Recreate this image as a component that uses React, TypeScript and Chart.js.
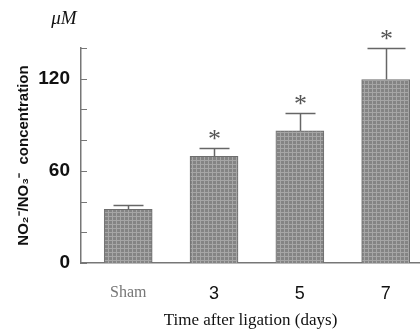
import { useEffect, useRef } from 'react';
import { Chart, registerables } from 'chart.js';
Chart.register(...registerables);

const categories = ['Sham', '3', '5', '7'];
const means = [35, 69.5, 86, 119.5];
const errorsUp = [2.5, 5.5, 12, 20.5];
const significant = [false, true, true, true];
const yLabelled = [0, 60, 120];
const yMax = 140;
const yStep = 20;

function makePattern(): CanvasPattern | string {
  const c = document.createElement('canvas');
  c.width = 4;
  c.height = 4;
  const g = c.getContext('2d');
  if (!g) return '#8c8c8c';
  g.fillStyle = '#848484';
  g.fillRect(0, 0, 4, 4);
  g.fillStyle = '#a6a6a6';
  g.fillRect(0, 0, 4, 1);
  g.fillRect(0, 0, 1, 4);
  const p = g.createPattern(c, 'repeat');
  return p || '#8c8c8c';
}

export default function App() {
  const ref = useRef<HTMLCanvasElement | null>(null);
  useEffect(() => {
    const canvas = ref.current;
    if (!canvas) return;
    const pattern = makePattern();

    const overlay = {
      id: 'overlay',
      afterDatasetsDraw(chart: any) {
        const { ctx, scales } = chart;
        const xs = scales.x;
        const ys = scales.y;
        ctx.save();
        ctx.strokeStyle = '#777';
        ctx.lineWidth = 1;
        for (let v = 0; v <= yMax; v += yStep) {
          const y = Math.round(ys.getPixelForValue(v)) + 0.5;
          ctx.beginPath();
          ctx.moveTo(xs.left, y);
          ctx.lineTo(xs.left + 6, y);
          ctx.stroke();
        }
        means.forEach((m, i) => {
          const x = Math.round(xs.getPixelForValue(i)) + 0.5;
          const yTop = ys.getPixelForValue(m);
          const yErr = Math.round(ys.getPixelForValue(m + errorsUp[i])) + 0.5;
          ctx.strokeStyle = '#666';
          ctx.lineWidth = 1.5;
          ctx.beginPath();
          ctx.moveTo(x, yTop);
          ctx.lineTo(x, yErr);
          ctx.stroke();
          const half = i === 3 ? 19 : 15;
          ctx.beginPath();
          ctx.moveTo(x - half, yErr);
          ctx.lineTo(x + half, yErr);
          ctx.stroke();
          if (significant[i]) {
            ctx.fillStyle = '#555';
            ctx.font = '26px "Liberation Serif", serif';
            ctx.textAlign = 'center';
            ctx.textBaseline = 'alphabetic';
            ctx.fillText('*', x, yErr - 2);
          }
        });
        ctx.fillStyle = '#111';
        ctx.font = 'italic 19px "Liberation Serif", serif';
        ctx.textAlign = 'center';
        ctx.textBaseline = 'middle';
        ctx.fillText('\u03bcM', 64, 19);
        ctx.restore();
      },
    };

    const chart = new Chart(canvas, {
      type: 'bar',
      data: {
        datasets: [
          {
            data: means.map((m, i) => ({ x: i, y: m })),
            backgroundColor: pattern as any,
            borderColor: '#6e6e6e',
            borderWidth: 1,
            barThickness: 48,
          },
        ],
      },
      options: {
        animation: false,
        responsive: false,
        layout: { padding: { top: 48, right: 0, left: 0, bottom: 0 } },
        plugins: { legend: { display: false }, tooltip: { enabled: false } },
        scales: {
          x: {
            type: 'linear',
            offset: false,
            min: -0.55,
            max: 3.4,
            afterBuildTicks(scale: any) {
              scale.ticks = categories.map((_, i) => ({ value: i }));
            },
            afterFit(scale: any) {
              scale.height = 69;
            },
            grid: { display: false, drawTicks: false },
            border: { display: true, color: '#777', width: 1.5 },
            ticks: {
              padding: 20,
              autoSkip: false,
              maxRotation: 0,
              callback: (v: any) => categories[v as number] ?? '',
              color: (c: any) => (c.index === 0 ? '#777' : '#111'),
              font: (c: any) =>
                c.index === 0
                  ? { family: '"Liberation Serif", serif', size: 16 }
                  : { family: '"Liberation Sans Narrow", "Liberation Sans", sans-serif', size: 18 },
            },
            title: {
              display: true,
              text: 'Time after ligation (days)',
              color: '#111',
              font: { family: '"Liberation Serif", serif', size: 17 },
              padding: { top: 0, bottom: 1 },
            },
          },
          y: {
            min: 0,
            max: yMax,
            afterBuildTicks(scale: any) {
              const t = [];
              for (let v = 0; v <= yMax; v += yStep) t.push({ value: v });
              scale.ticks = t;
            },
            afterFit(scale: any) {
              scale.width = 81;
            },
            grid: { display: false, drawTicks: false },
            border: { display: true, color: '#777', width: 1.5 },
            ticks: {
              padding: 11,
              autoSkip: false,
              color: '#111',
              callback: (v: any) => (yLabelled.includes(v as number) ? String(v) : ''),
              font: { family: '"Liberation Sans Narrow", "Liberation Sans", sans-serif', size: 19, weight: 'bold' },
            },
            title: {
              display: true,
              text: 'NO\u2082\u207B/NO\u2083\u207B  concentration',
              color: '#111',
              font: { family: '"Liberation Sans Narrow", "Liberation Sans", sans-serif', size: 15, weight: 'bold' },
              padding: { top: 15, bottom: 0 },
            },
          },
        },
      },
      plugins: [overlay],
    });
    return () => chart.destroy();
  }, []);

  return (
    <div style={{ position: 'fixed', left: 0, top: 0, width: 420, height: 332, background: '#fff' }}>
      <canvas ref={ref} width={420} height={332} />
    </div>
  );
}
